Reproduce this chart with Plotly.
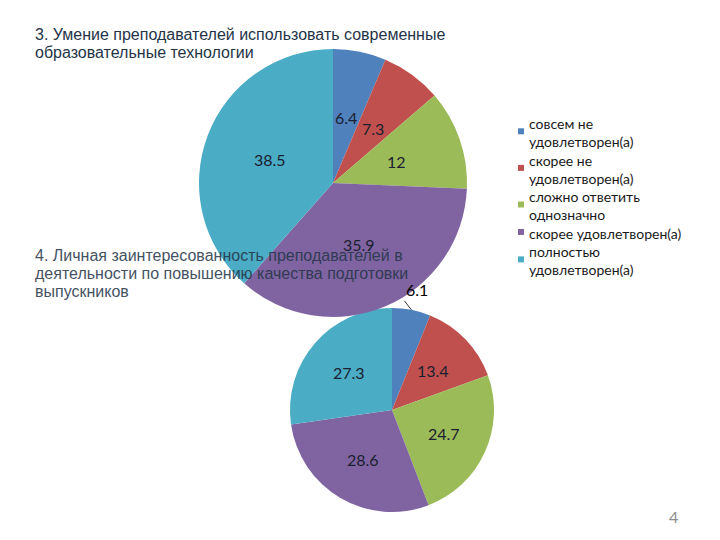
import math
import plotly.graph_objects as go

categories = ["совсем не удовлетворен(а)", "скорее не удовлетворен(а)",
              "сложно ответить однозначно", "скорее удовлетворен(а)",
              "полностью удовлетворен(а)"]
legend_lines = [["совсем не", "удовлетворен(а)"],
                ["скорее не", "удовлетворен(а)"],
                ["сложно ответить", "однозначно"],
                ["скорее удовлетворен(а)"],
                ["полностью", "удовлетворен(а)"]]
values_q3 = [6.4, 7.3, 12, 35.9, 38.5]
values_q4 = [6.1, 13.4, 24.7, 28.6, 27.3]
title_q3 = ["3. Умение преподавателей использовать современные",
            "образовательные технологии"]
title_q4 = ["4. Личная заинтересованность преподавателей в",
            "деятельности по повышению качества подготовки",
            "выпускников"]
page_number = "4"

colors = ["#4F81BD", "#C0504D", "#9BBB59", "#8064A2", "#4BACC6"]
W, H = 720, 540
label_font = dict(family="Lato", size=16, color="#1b2030")

fig = go.Figure()
annotations = []


def add_pie(values, cx, cy, r, label_frac, outside_idx=()):
    fig.add_trace(go.Pie(
        labels=categories, values=values, sort=False, direction="clockwise", rotation=0,
        marker=dict(colors=colors, line=dict(width=0)),
        textinfo="none",
        domain=dict(x=[(cx - r) / W, (cx + r) / W],
                    y=[(H - cy - r) / H, (H - cy + r) / H]),
        showlegend=False, hoverinfo="label+value",
    ))
    total = sum(values)
    cum = 0
    for i, v in enumerate(values):
        ang = 2 * math.pi * (cum + v / 2) / total
        cum += v
        txt = f"{v:g}"
        if i in outside_idx:
            px = cx + r * math.sin(ang)
            py = cy - r * math.cos(ang)
            annotations.append(dict(
                text=txt, x=px / W, y=1 - py / H, xref="paper", yref="paper",
                showarrow=True, arrowhead=0, arrowwidth=0.8, arrowcolor="#000000",
                ax=-7, ay=-9, standoff=0, xanchor="left", yanchor="bottom",
                font=dict(family="Lato", size=16, color="#000000")))
        else:
            px = cx + label_frac * r * math.sin(ang)
            py = cy - label_frac * r * math.cos(ang)
            annotations.append(dict(
                text=txt, x=px / W, y=1 - py / H, xref="paper", yref="paper",
                showarrow=False, xanchor="center", yanchor="middle", font=label_font))


# Pie 2 first so pie 1 overlaps it
add_pie(values_q4, 392, 410, 102, 0.56, outside_idx=(0,))
add_pie(values_q3, 333, 183, 134, 0.5)

title_font = dict(family="Liberation Sans", size=16, color="#243447")
for k, line in enumerate(title_q3):
    annotations.append(dict(text=line, x=33 / W, y=1 - (34 + 18.5 * k) / H,
                            xref="paper", yref="paper", xanchor="left", yanchor="middle",
                            showarrow=False, font=title_font))
for k, line in enumerate(title_q4):
    annotations.append(dict(text=line, x=33 / W, y=1 - (255 + 18.3 * k) / H,
                            xref="paper", yref="paper", xanchor="left", yanchor="middle",
                            showarrow=False, font=title_font, opacity=0.85))

annotations.append(dict(text=page_number, x=673 / W, y=1 - 516 / H, xref="paper", yref="paper",
                        xanchor="center", yanchor="middle", showarrow=False,
                        font=dict(family="Lato", size=16, color="#8c8c8c")))
shapes = []

# Custom legend
line_h = 18.3
top = 113
for lines, col in zip(legend_lines, colors):
    n = len(lines)
    annotations.append(dict(
        text="<br>".join(lines), x=527 / W, y=1 - top / H, xref="paper", yref="paper",
        xanchor="left", yanchor="top", align="left", showarrow=False,
        font=dict(family="Lato", size=14, color="#1a1a1a")))
    mid = top + n * line_h / 2
    shapes.append(dict(type="rect", xref="paper", yref="paper",
                       x0=518 / W, x1=524 / W, y0=1 - (mid - 3) / H, y1=1 - (mid + 3) / H,
                       fillcolor=col, line=dict(width=0)))
    top += n * line_h

fig.update_layout(
    width=W, height=H, margin=dict(l=0, r=0, t=0, b=0),
    paper_bgcolor="white", plot_bgcolor="white",
    annotations=annotations, shapes=shapes,
)

fig.write_html("out.html")
